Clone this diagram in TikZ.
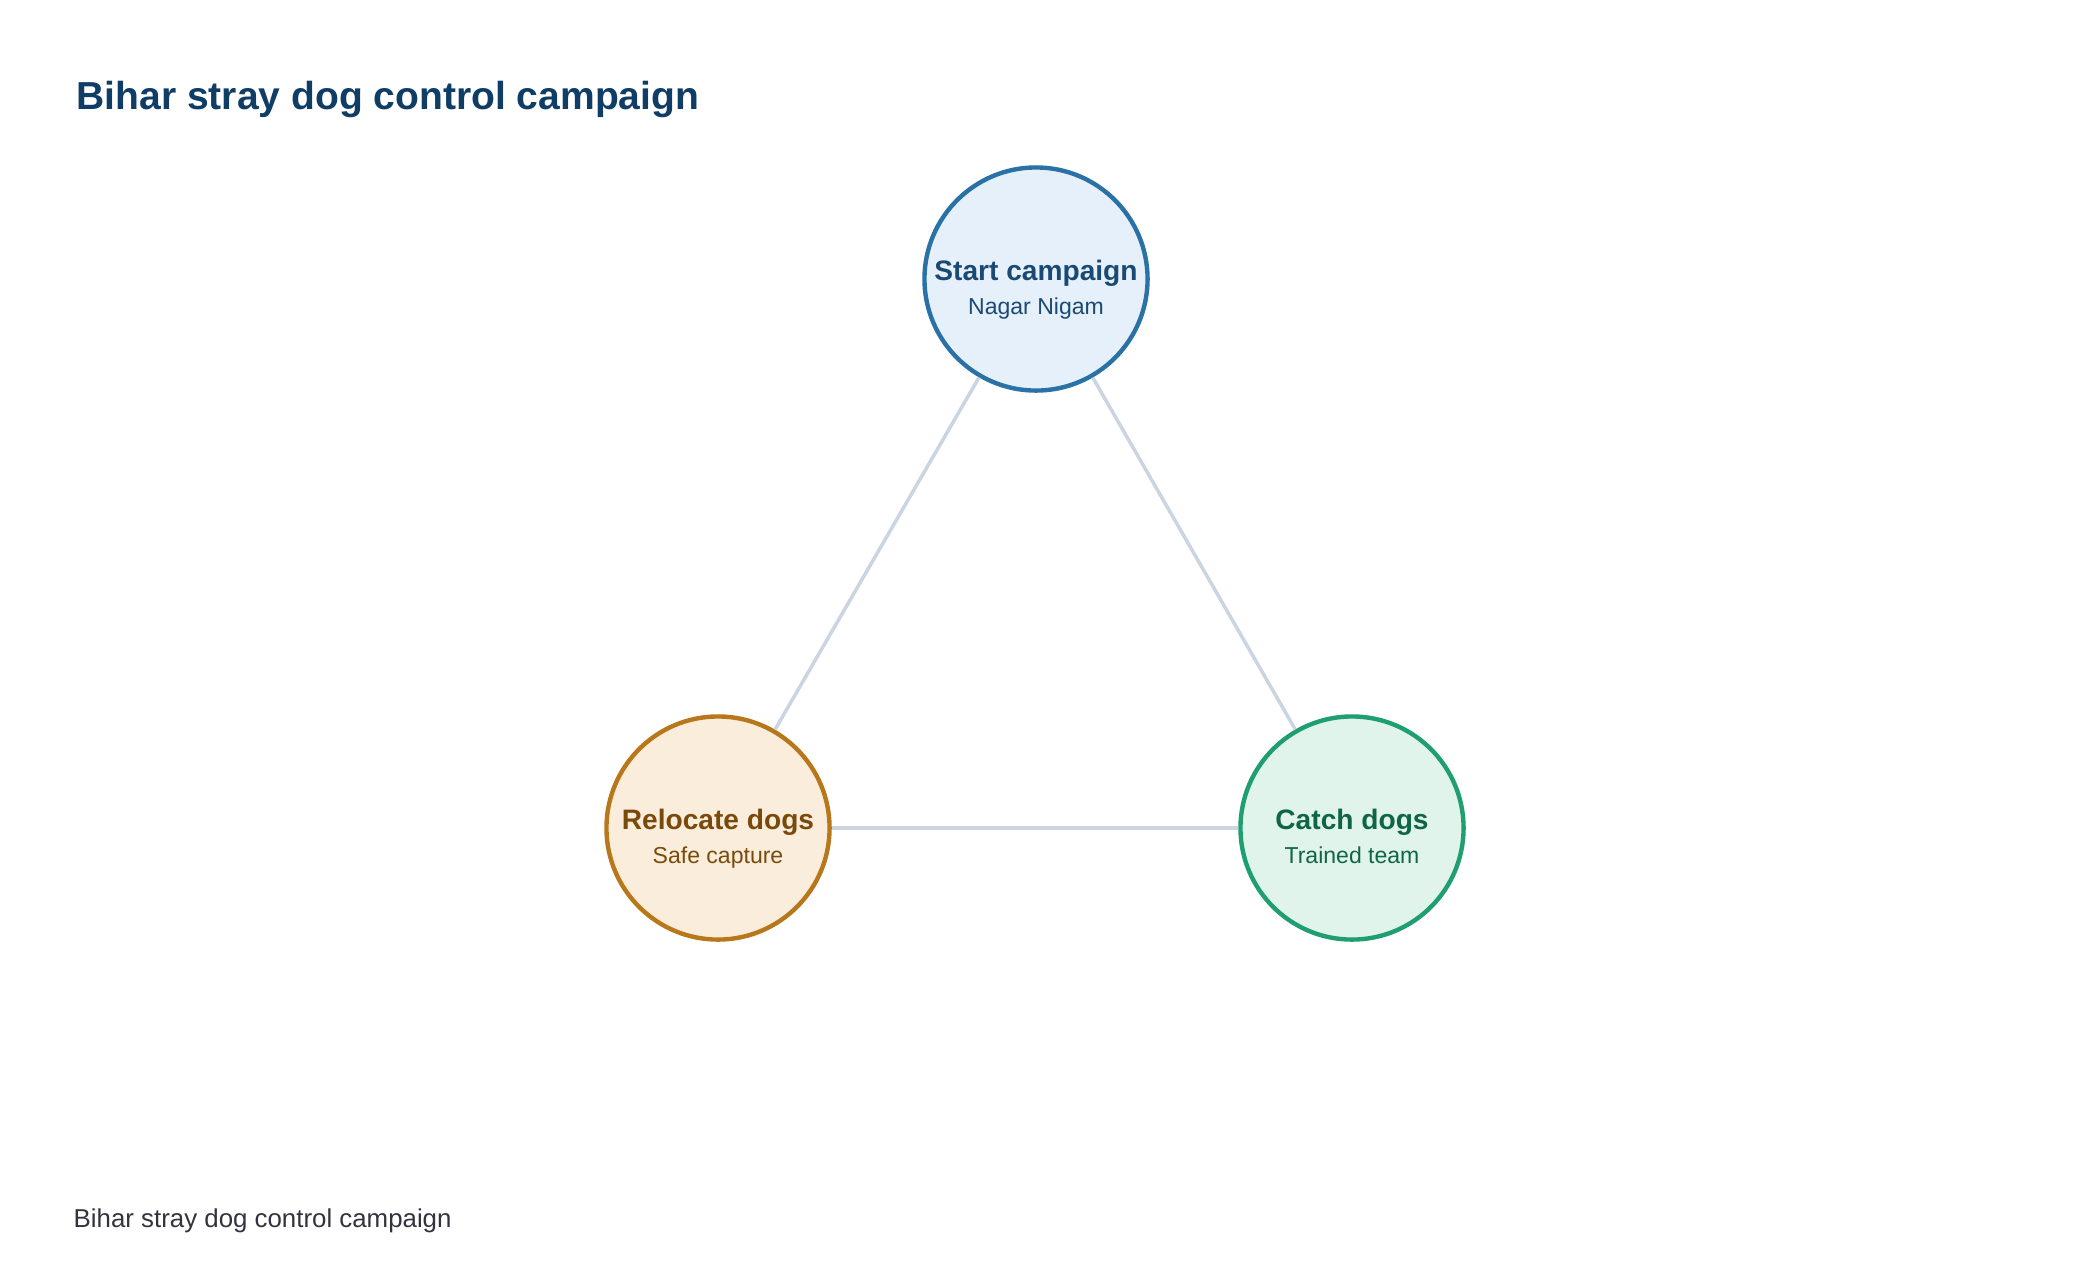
\documentclass[tikz,border=0pt]{standalone}
\usepackage{fontspec}
\setmainfont{Liberation Sans}
\usepackage{xcolor}
\usepackage{tikz}
\usetikzlibrary{positioning}
\definecolor{titleblue}{HTML}{0F3D66}
\definecolor{footgray}{HTML}{33333F}
\definecolor{edgegray}{HTML}{CBD5E1}
\definecolor{startline}{HTML}{2A72A6}
\definecolor{startfill}{HTML}{E6F0FA}
\definecolor{starttext}{HTML}{1A4A73}
\definecolor{relocline}{HTML}{B8771A}
\definecolor{relocfill}{HTML}{FAEDDB}
\definecolor{reloctext}{HTML}{7A4A0A}
\definecolor{catchline}{HTML}{1F9E72}
\definecolor{catchfill}{HTML}{E0F4EC}
\definecolor{catchtext}{HTML}{0F6647}

\begin{document}
\begin{tikzpicture}[x=0.01cm,y=-0.01cm]

\tikzset{
stage/.style={
    circle,
    line width=1.25pt,
    minimum size=2.23cm,
    inner sep=0pt
},
head/.style={
    anchor=base,
    font=\fontsize{8}{9.6}\selectfont\bfseries,
    inner sep=0pt
},
sub/.style={
    anchor=base,
    font=\fontsize{6.55}{8}\selectfont,
    inner sep=0pt
},
link/.style={line width=1pt,color=edgegray}
}

\useasboundingbox (0,0) rectangle (2080,1284);

\node[anchor=base west,inner sep=0pt,font=\fontsize{11.1}{13}\selectfont\bfseries,text=titleblue] (title) at (76,109) {Bihar stray dog control campaign};

\node[stage, draw=startline, fill=startfill] (start) at (1036,279) {};
\node[stage, draw=relocline, fill=relocfill] (reloc) at (718,828) {};
\node[stage, draw=catchline, fill=catchfill] (catch) at (1352,828) {};

\draw[link] (start) -- (reloc);
\draw[link] (start) -- (catch);
\draw[link] (reloc) -- (catch);

\node[head, text=starttext] (starthead) at ([yshift=-0.01cm]start.center) {Start campaign};
\node[sub, text=starttext] (startsub) at ([yshift=-0.35cm]start.center) {Nagar Nigam};
\node[head, text=reloctext] (relochead) at ([yshift=-0.01cm]reloc.center) {Relocate dogs};
\node[sub, text=reloctext] (relocsub) at ([yshift=-0.35cm]reloc.center) {Safe capture};
\node[head, text=catchtext] (catchhead) at ([yshift=-0.01cm]catch.center) {Catch dogs};
\node[sub, text=catchtext] (catchsub) at ([yshift=-0.35cm]catch.center) {Trained team};

\node[anchor=base west,inner sep=0pt,font=\fontsize{7.35}{9}\selectfont,text=footgray] (foot) at (73,1227) {Bihar stray dog control campaign};

\end{tikzpicture}
\end{document}
